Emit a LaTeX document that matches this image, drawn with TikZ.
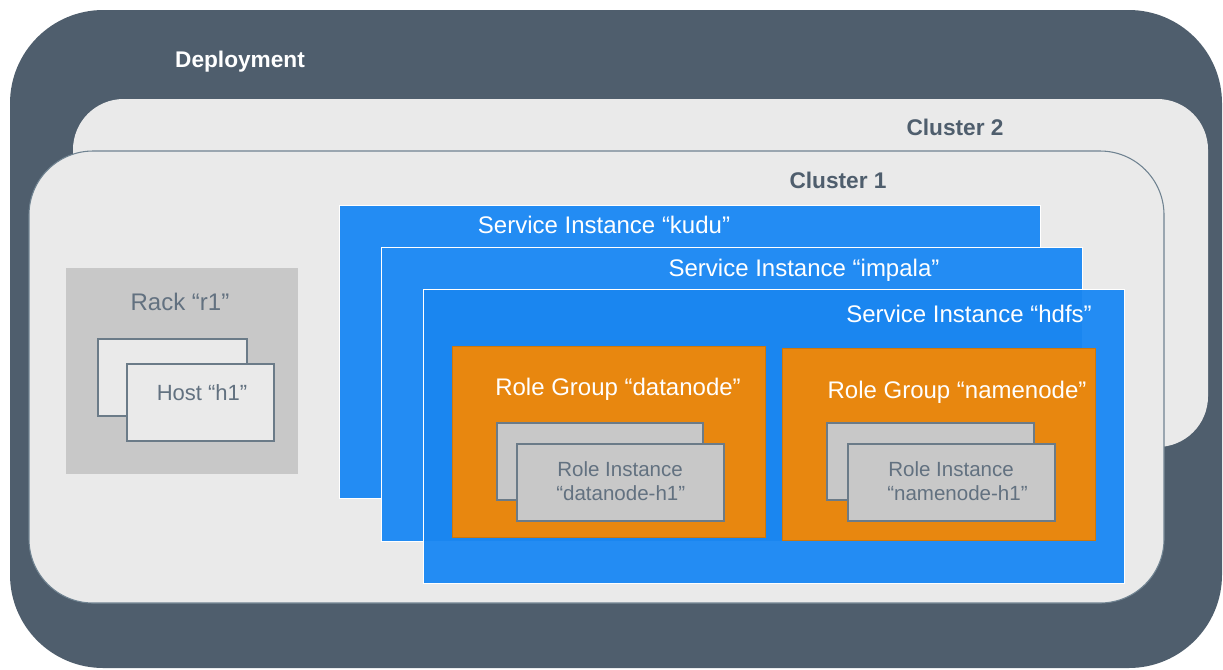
\documentclass[tikz,border=0pt]{standalone}
\usepackage{fontspec}
\setmainfont{Liberation Sans}

\definecolor{slate}{HTML}{4F5E6D}
\definecolor{panegray}{HTML}{EAEAEA}
\definecolor{edgegray}{HTML}{6B7B88}
\definecolor{rimgray}{HTML}{708391}
\definecolor{boxgray}{HTML}{C8C8C8}
\definecolor{svcblue}{HTML}{238CF3}
\definecolor{svcdark}{HTML}{1A86F0}
\definecolor{grporange}{HTML}{E8870F}
\definecolor{textgray}{HTML}{627180}

\tikzset{
  pane/.style={fill=panegray},
  service/.style={fill=svcblue, draw=white, line width=0.7pt},
  rolegrp/.style={fill=grporange, draw=grporange!88!black, line width=0.5pt},
  card/.style={draw=edgegray, line width=0.9pt},
  headtext/.style={anchor=base, inner sep=0pt, text=slate,
    font=\fontsize{17}{20}\selectfont\bfseries},
  boxtext/.style={anchor=base, inner sep=0pt, text=white,
    font=\fontsize{18}{22}\selectfont},
  cardtext/.style={anchor=base west, inner sep=0pt, text=textgray,
    font=\fontsize{15.4}{18}\selectfont}
}

\begin{document}
\begin{tikzpicture}[x=0.75pt, y=-0.75pt]
  % canvas
  \fill[white] (0,0) rectangle (1223,669);
  \useasboundingbox (0,0) rectangle (1223,669);

  % deployment and clusters
  \fill[slate, rounded corners=70pt] (10,10) rectangle (1222,668);
  \fill[pane, rounded corners=38pt] (73,99) rectangle (1208,447);
  \filldraw[pane, draw=rimgray, line width=0.8pt, rounded corners=48pt]
    (29,151) rectangle (1164,603);

  \node[headtext, text=white] (deploy) at (240,67) {Deployment};
  \node[headtext] (cluster2) at (955,135) {Cluster 2};
  \node[headtext] (cluster1) at (838,188) {Cluster 1};

  % rack with hosts
  \fill[boxgray] (66,268) rectangle (298,474);
  \filldraw[card, fill=panegray] (98,339) rectangle (247,416);
  \filldraw[card, fill=panegray] (127,364) rectangle (274,441);
  \node[boxtext, text=textgray] (rack) at (180,310) {Rack “r1”};
  \node[boxtext, text=textgray, font=\fontsize{16.5}{20}\selectfont]
    (host) at (202,400) {Host “h1”};

  % service instances
  \draw[service] (339,205) rectangle (1040,498);
  \draw[service] (381,247) rectangle (1082,541);
  \fill[svcblue] (423,289) rectangle (1124,583);
  \fill[svcdark] (423,289) rectangle (1082,541);
  \draw[white, line width=0.7pt] (423,289) rectangle (1124,583);
  \node[boxtext] (kudu) at (604,233) {Service Instance “kudu”};
  \node[boxtext] (impala) at (804,276) {Service Instance “impala”};
  \node[boxtext] (hdfs) at (969,322) {Service Instance “hdfs”};

  % role groups
  \draw[rolegrp] (452,346) rectangle (765,537);
  \draw[rolegrp] (782,348) rectangle (1095,540);
  \node[boxtext] (datagrp) at (618,395) {Role Group “datanode”};
  \node[boxtext] (namegrp) at (957,398) {Role Group “namenode”};

  % role instances
  \filldraw[card, fill=boxgray] (497,423) rectangle (703,500);
  \filldraw[card, fill=boxgray] (517,444) rectangle (724,521);
  \filldraw[card, fill=boxgray] (827,423) rectangle (1034,500);
  \filldraw[card, fill=boxgray] (848,444) rectangle (1055,521);
  \node[cardtext] (datarole) at (557,476) {Role Instance};
  \node[cardtext] (datarolename) at (556,500) {“datanode-h1”};
  \node[cardtext] (namerole) at (888,476) {Role Instance};
  \node[cardtext] (namerolename) at (887,500) {“namenode-h1”};
\end{tikzpicture}
\end{document}
